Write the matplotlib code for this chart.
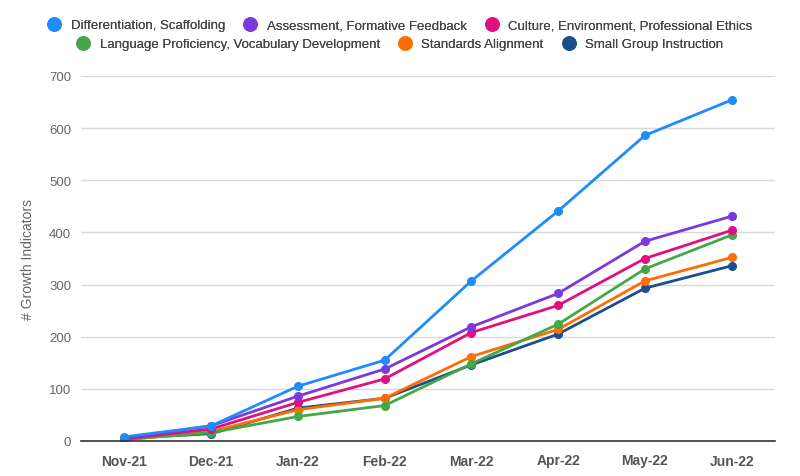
import matplotlib.pyplot as plt
from matplotlib.lines import Line2D

plt.rcParams['font.family'] = ['Liberation Sans', 'DejaVu Sans']

months = ["Nov-21", "Dec-21", "Jan-22", "Feb-22", "Mar-22", "Apr-22", "May-22", "Jun-22"]

differentiation = [8, 29, 105, 155, 307, 441, 586, 654]
assessment = [6, 29, 86, 138, 219, 283, 383, 431]
culture = [4, 23, 74, 119, 208, 260, 350, 404]
language = [3, 16, 47, 68, 148, 224, 330, 395]
standards = [2, 18, 60, 82, 162, 214, 307, 352]
small_group = [5, 14, 63, 82, 146, 205, 293, 336]

series = [
    ("Differentiation, Scaffolding", differentiation, "#1e8cfa"),
    ("Assessment, Formative Feedback", assessment, "#7b38dc"),
    ("Culture, Environment, Professional Ethics", culture, "#e0107e"),
    ("Language Proficiency, Vocabulary Development", language, "#43a847"),
    ("Standards Alignment", standards, "#ff6d01"),
    ("Small Group Instruction", small_group, "#1b4e8c"),
]

fig = plt.figure(figsize=(8, 4.77), dpi=100)
ax = fig.add_axes([81 / 800, 1 - 442 / 477, 694 / 800, 365 / 477])

x = list(range(len(months)))
# draw bottom series first so the top ones sit above
for name, vals, color in reversed(series):
    ax.plot(x, vals, color=color, linewidth=2, marker='o', markersize=5.5, label=name)

ax.set_xlim(-0.5, len(months) - 0.5)
ax.set_ylim(0, 700)
ax.set_yticks(range(0, 701, 100))
ax.set_xticks(x)
ax.set_xticklabels(months, fontweight='bold', color='#555555', fontsize=10)
ax.tick_params(axis='y', colors='#666666', labelsize=9.5, length=0, pad=7)
ax.tick_params(axis='x', length=0, pad=9)
ax.grid(axis='y', color='#d9d9d9', linewidth=1)
ax.set_axisbelow(True)
for s in ['top', 'right', 'left']:
    ax.spines[s].set_visible(False)
ax.spines['bottom'].set_color('#333333')
ax.spines['bottom'].set_linewidth(1.2)
ax.set_ylabel("# Growth Indicators", color='#666666', fontsize=10)
ax.yaxis.set_label_coords(-46 / 694, 0.5)

# two centred legend rows
def handle(color):
    return Line2D([], [], color=color, marker='o', linestyle='none', markersize=9.5)

rows = [series[:3], series[3:]]
ys = [1 - 26 / 477, 1 - 45 / 477]
for row, yy in zip(rows, ys):
    leg = fig.legend([handle(c) for _, _, c in row], [n for n, _, _ in row],
                     loc='center', bbox_to_anchor=(0.5, yy), ncol=3, frameon=False,
                     fontsize=9.5, handletextpad=0.75, columnspacing=1.4,
                     labelcolor='#444444', handlelength=1.0, borderpad=0,
                     borderaxespad=0)
    fig.add_artist(leg)

fig.savefig("out.png", dpi=100)
